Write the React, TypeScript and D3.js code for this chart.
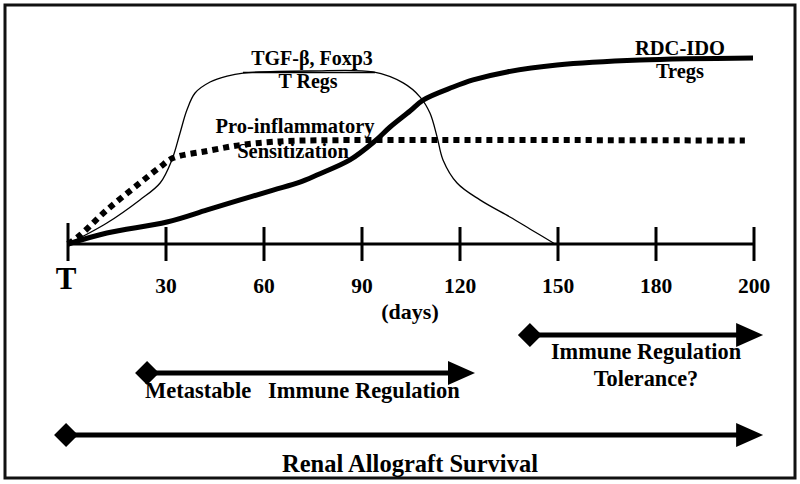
import React from "react";
import * as d3 from "d3";

// ---- data ----
const tickDays = [0, 30, 60, 90, 120, 150, 180, 210];
const tickLabels = ["T", "30", "60", "90", "120", "150", "180", "200"];

// T Regs (TGF-β, Foxp3) – thin curve: [day, level]
const tregDays = [0, 11.9, 22, 28.2, 31.8, 34.3, 36.4, 38.9, 43.5, 48.7, 53.6, 74.1, 93.4, 102.6, 107.8, 110.8, 113, 114.8, 119.1, 126.1, 135.3, 141.4, 149.1];
const tregLevel = [0, 11.3, 23.7, 32.8, 45.2, 59.7, 72, 81.2, 87.1, 90.3, 91.9, 93, 92.5, 86.6, 79, 70.4, 57.5, 45.2, 32.8, 23.7, 14.5, 8.1, 0];

// Pro-inflammatory sensitization – dotted curve
const sensDays = [0, 3.7, 11.9, 22, 28.2, 32.1, 42.6, 52.7, 61.8, 71, 207.2];
const sensLevel = [0, 4.8, 18.3, 32.8, 41.4, 46.2, 50, 53.2, 54.8, 55.6, 55.6];

// RDC-IDO Tregs – thick curve
const idoDays = [0, 11.9, 30.3, 42.6, 52.7, 62.8, 71, 76.2, 86.3, 94, 98.6, 104.7, 108.7, 117.9, 124, 134.4, 149.7, 175.1, 209.7];
const idoLevel = [0, 5.9, 11.8, 18.3, 23.7, 29, 33.3, 37.1, 45.2, 55.4, 62.9, 71.5, 77.4, 84.4, 88.2, 92.5, 96.2, 98.9, 100];

// Phase arrows: [start day, end day]
const phaseNames = ["Immune Regulation|Tolerance?", "Metastable   Immune Regulation", "Renal Allograft Survival"];
const phaseStart = [141.4, 24.2, -0.6];
const phaseEnd = [212.8, 124.6, 212.8];

const FONT = "'Liberation Serif', 'Times New Roman', serif";

export default function App() {
  const W = 800, H = 484;
  const x = d3.scaleLinear().domain([0, 210]).range([68, 754]);
  const y = d3.scaleLinear().domain([0, 100]).range([244, 58]);
  const axisY = y(0);

  const line = d3
    .line<[number, number]>()
    .x((d) => x(d[0]))
    .y((d) => y(d[1]))
    .curve(d3.curveCatmullRom.alpha(0.5));

  const zip = (a: number[], b: number[]) => a.map((v, i) => [v, b[i]] as [number, number]);

  const phaseY = [335, 373, 435];
  const textStyle: React.CSSProperties = { fontFamily: FONT, fontWeight: "bold" };

  const diamond = (cx: number, cy: number) =>
    `M${cx - 12},${cy} L${cx},${cy - 12} L${cx + 12},${cy} L${cx},${cy + 12} Z`;
  const head = (tx: number, cy: number) =>
    `M${tx},${cy} L${tx - 27},${cy - 12} L${tx - 27},${cy + 12} Z`;

  return (
    <svg width={W} height={H} style={{ position: "absolute", left: 0, top: 0, background: "#fff" }}>
      <rect x={5} y={5} width={790} height={473} fill="#fff" stroke="#111" strokeWidth={3} />

      {/* axis */}
      <line x1={x(0)} x2={x(210)} y1={axisY} y2={axisY} stroke="#000" strokeWidth={3} />
      {tickDays.map((d, i) => (
        <g key={i}>
          <line x1={x(d)} x2={x(d)} y1={i === 0 ? axisY - 21 : axisY - 17} y2={axisY + 17} stroke="#000" strokeWidth={3} />
          <text
            x={i === 0 ? x(d) - 2 : x(d)}
            y={i === 0 ? 289 : 293}
            textAnchor="middle"
            fontSize={i === 0 ? 31 : 21.5}
            style={textStyle}
          >
            {tickLabels[i]}
          </text>
        </g>
      ))}
      <text x={410} y={319} textAnchor="middle" fontSize={22} style={textStyle}>(days)</text>

      {/* curves */}
      <path d={line(zip(tregDays, tregLevel)) || ""} fill="none" stroke="#000" strokeWidth={1.3} />
      <path d={line(zip(sensDays, sensLevel)) || ""} fill="none" stroke="#000" strokeWidth={6} strokeDasharray="6 5" />
      <path d={line(zip(idoDays, idoLevel)) || ""} fill="none" stroke="#000" strokeWidth={5} />

      {/* curve labels */}
      <text x={312} y={65} textAnchor="middle" fontSize={20} style={textStyle}>TGF-β, Foxp3</text>
      <line x1={243} x2={375} y1={72.5} y2={72.5} stroke="#000" strokeWidth={1.5} />
      <text x={308} y={88} textAnchor="middle" fontSize={20} style={textStyle}>T Regs</text>
      <text x={295} y={133} textAnchor="middle" fontSize={20.5} style={textStyle}>Pro-inflammatory</text>
      <text x={293} y={158} textAnchor="middle" fontSize={20.5} style={textStyle}>Sensitization</text>
      <text x={680} y={55} textAnchor="middle" fontSize={20.5} style={textStyle}>RDC-IDO</text>
      <text x={680} y={78} textAnchor="middle" fontSize={20.5} style={textStyle}>Tregs</text>

      {/* phase arrows */}
      {phaseNames.map((name, i) => {
        const sx = x(phaseStart[i]);
        const ex = x(phaseEnd[i]);
        const cy = phaseY[i];
        return (
          <g key={name}>
            <line x1={sx} x2={ex - 20} y1={cy} y2={cy} stroke="#000" strokeWidth={5} />
            <path d={diamond(sx, cy)} fill="#000" />
            <path d={head(ex, cy)} fill="#000" />
          </g>
        );
      })}
      <text x={646} y={359} textAnchor="middle" fontSize={22.3} style={textStyle}>Immune Regulation</text>
      <text x={646} y={386} textAnchor="middle" fontSize={22.3} style={textStyle}>Tolerance?</text>
      <text x={145} y={398} fontSize={22.5} style={textStyle}>Metastable</text>
      <text x={268} y={398} fontSize={22.5} style={textStyle}>Immune Regulation</text>
      <text x={410} y={472} textAnchor="middle" fontSize={24.5} style={textStyle}>Renal Allograft Survival</text>
    </svg>
  );
}
